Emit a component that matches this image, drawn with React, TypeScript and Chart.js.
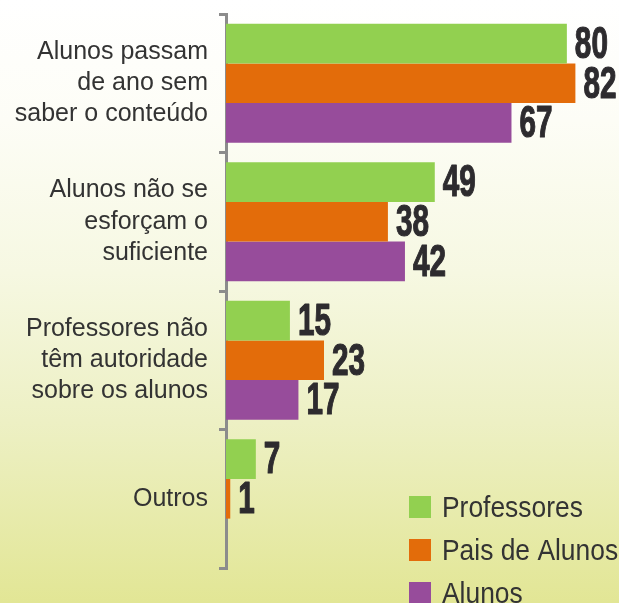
import React, { useEffect, useRef } from "react";
import { Chart, registerables } from "chart.js";

Chart.register(...registerables);

const categories: (string | string[])[] = [
  ["Alunos passam", "de ano sem", "saber o conteúdo"],
  ["Alunos não se", "esforçam o", "suficiente"],
  ["Professores não", "têm autoridade", "sobre os alunos"],
  "Outros",
];
const seriesNames = ["Professores", "Pais de Alunos", "Alunos"];
const professores = [80, 49, 15, 7];
const paisDeAlunos = [82, 38, 23, 1];
const alunos: (number | null)[] = [67, 42, 17, null];
const seriesColors = ["#92D050", "#E36C0A", "#974C9B"];

const valueLabels = {
  id: "valueLabels",
  afterDatasetsDraw(chart: any) {
    const ctx = chart.ctx;
    ctx.save();
    ctx.fillStyle = "#2d2b2e";
    ctx.strokeStyle = "#2d2b2e";
    ctx.lineWidth = 1.2;
    ctx.lineJoin = "round";
    ctx.font = 'bold 45px "Liberation Sans", Arial, sans-serif';
    ctx.textBaseline = "middle";
    ctx.textAlign = "left";
    chart.data.datasets.forEach((ds: any, di: number) => {
      const meta = chart.getDatasetMeta(di);
      meta.data.forEach((bar: any, i: number) => {
        const v = ds.data[i];
        if (v === null || v === undefined) return;
        const x = bar.x + 8;
        const y = bar.y + 2;
        ctx.save();
        ctx.translate(x, y);
        ctx.scale(0.66, 1);
        ctx.strokeText(String(v), 0, 0);
        ctx.fillText(String(v), 0, 0);
        ctx.restore();
      });
    });
    ctx.restore();
  },
};

const customLegend = {
  id: "customLegend",
  afterDraw(chart: any) {
    const ctx = chart.ctx;
    ctx.save();
    const x0 = 409;
    const y0 = 496;
    const step = 43;
    chart.data.datasets.forEach((ds: any, i: number) => {
      const y = y0 + i * step;
      ctx.fillStyle = ds.backgroundColor;
      ctx.fillRect(x0, y, 22, 22);
      ctx.fillStyle = "#333333";
      ctx.font = '30px "Liberation Sans", Arial, sans-serif';
      ctx.textBaseline = "alphabetic";
      ctx.textAlign = "left";
      ctx.save();
      ctx.translate(x0 + 33, y + 21);
      ctx.scale(0.88, 1);
      ctx.fillText(ds.label, 0, 0);
      ctx.restore();
    });
    ctx.restore();
  },
};

export default function App() {
  const ref = useRef<HTMLCanvasElement>(null);
  useEffect(() => {
    if (!ref.current) return;
    const chart = new Chart(ref.current, {
      type: "bar",
      data: {
        labels: categories,
        datasets: [
          { label: seriesNames[0], data: professores, backgroundColor: seriesColors[0] },
          { label: seriesNames[1], data: paisDeAlunos, backgroundColor: seriesColors[1] },
          { label: seriesNames[2], data: alunos, backgroundColor: seriesColors[2] },
        ],
      },
      options: {
        indexAxis: "y",
        animation: false,
        responsive: true,
        maintainAspectRatio: false,
        layout: { padding: { top: 14, bottom: 35, right: 1, left: 0 } },
        datasets: {
          bar: { categoryPercentage: 0.86, barPercentage: 1.0, borderWidth: 0 },
        },
        plugins: {
          legend: { display: false },
          tooltip: { enabled: false },
        },
        scales: {
          x: { display: false, min: 0, max: 92 },
          y: {
            afterFit: (scale: any) => {
              scale.width = 226;
              scale.paddingTop = 0;
              scale.paddingBottom = 0;
            },
            border: { display: true, color: "#8c8c8c", width: 3 },
            grid: {
              drawOnChartArea: false,
              drawTicks: true,
              tickLength: 7,
              color: "#8c8c8c",
              lineWidth: 3,
              offset: true,
            },
            ticks: {
              color: "#333333",
              padding: 11,
              font: { family: '"Liberation Sans", Arial, sans-serif', size: 25, lineHeight: 1.25 },
            },
          },
        },
      },
      plugins: [valueLabels, customLegend],
    });
    return () => chart.destroy();
  }, []);
  return (
    <div
      style={{
        position: "absolute",
        left: 0,
        top: 0,
        width: 619,
        height: 603,
        background:
          "linear-gradient(to bottom, #ffffff 0%, #fdfdf6 20%, #f6f8e2 45%, #edf0c4 70%, #e2e695 100%)",
      }}
    >
      <canvas ref={ref} />
    </div>
  );
}
